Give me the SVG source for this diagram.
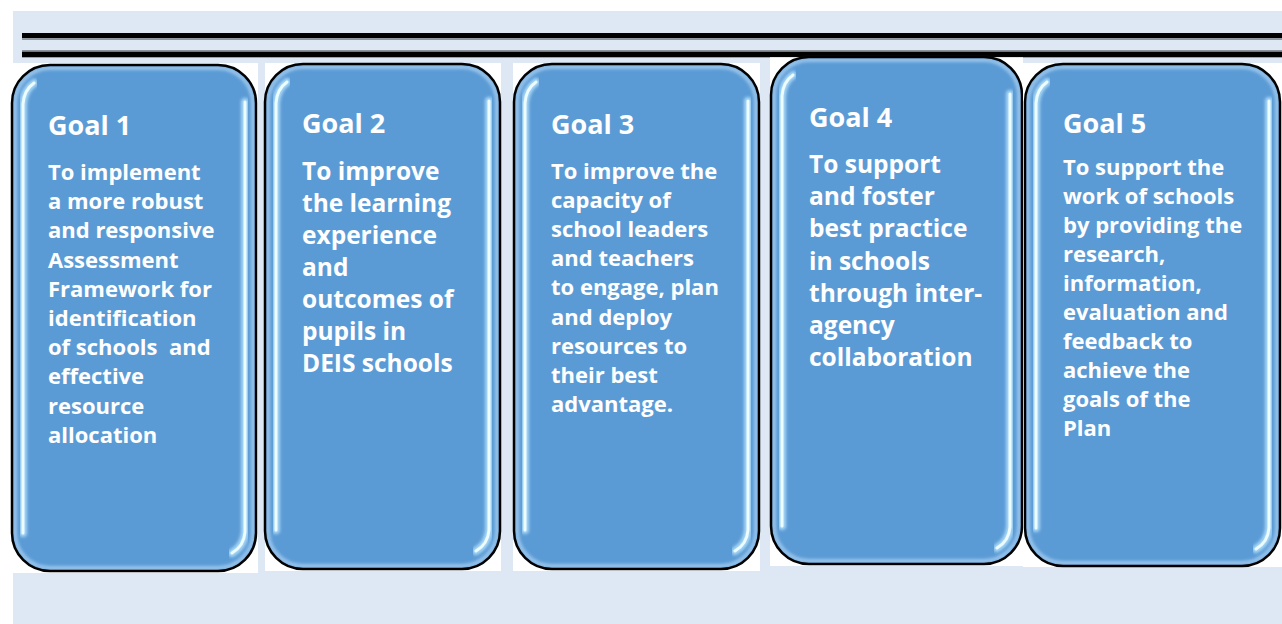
<svg xmlns="http://www.w3.org/2000/svg" width="1282" height="624" viewBox="0 0 1282 624">
<defs>
<style>
.wbg{fill:#ffffff}
.box{fill:#5b9bd5}
.bevel{fill:none;stroke:#a3cbef;stroke-width:4;opacity:.85;filter:url(#soft)}
.hlg{fill:none;stroke:#a6d6f6;stroke-width:8;stroke-linecap:round;filter:url(#soft)}
.hl{fill:none;stroke:#ecfcff;stroke-width:3;stroke-linecap:round}
.outline{fill:none;stroke:#000;stroke-width:2.5}
text{font-family:"Open Sans","DejaVu Sans",sans-serif;font-weight:700;fill:#ffffff}
.title{font-size:27px}
.s22{font-size:22px}
.s24{font-size:24.5px}
.s21{font-size:22px}
</style>
<filter id="soft" x="-20%" y="-20%" width="140%" height="140%"><feGaussianBlur stdDeviation="1.4"/></filter>
</defs>

<!-- background -->
<rect x="13" y="11" width="1269" height="613" fill="#dee8f4"/>
<g id="rule">
<rect x="22" y="33" width="1260" height="5.3" fill="#000"/>
<rect x="22" y="38.3" width="1260" height="1.7" fill="#8d949c"/>
<rect x="22" y="50" width="1260" height="1.7" fill="#8d949c"/>
<rect x="22" y="51.7" width="1260" height="5.6" fill="#000"/>
</g>

<g id="goal1">
<rect class="wbg" x="13" y="63" width="245" height="510"/>
<rect class="box" x="12" y="65" width="244" height="506" rx="38"/>
<rect class="bevel" x="15" y="68" width="238" height="500" rx="35"/>
<path class="hlg" d="M34,83 Q24,90 23,104 L23,533"/>
<path class="hl" d="M34,83 Q24,90 23,104 L23,533"/>
<path class="hlg" d="M245,102 L245,532 Q244,546 232,553"/>
<path class="hl" d="M245,102 L245,532 Q244,546 232,553"/>
<rect class="outline" x="12" y="65" width="244" height="506" rx="38"/>
<text class="title" x="48" y="135">Goal 1</text>
<text class="s22">
<tspan x="48" y="180">To implement</tspan>
<tspan x="48" y="209.2">a more robust</tspan>
<tspan x="48" y="238.4">and responsive</tspan>
<tspan x="48" y="267.6">Assessment</tspan>
<tspan x="48" y="296.8">Framework for</tspan>
<tspan x="48" y="326">identification</tspan>
<tspan x="48" y="355.2">of schools&#160; and</tspan>
<tspan x="48" y="384.4">effective</tspan>
<tspan x="48" y="413.6">resource</tspan>
<tspan x="48" y="442.8">allocation</tspan>
</text>
</g>

<g id="goal2">
<rect class="wbg" x="265" y="63" width="236" height="508"/>
<rect class="box" x="265" y="64" width="235" height="505" rx="38"/>
<rect class="bevel" x="268" y="67" width="229" height="499" rx="35"/>
<path class="hlg" d="M287,82 Q277,89 276,103 L276,530"/>
<path class="hl" d="M287,82 Q277,89 276,103 L276,530"/>
<path class="hlg" d="M489,101 L489,530 Q488,544 476,551"/>
<path class="hl" d="M489,101 L489,530 Q488,544 476,551"/>
<rect class="outline" x="265" y="64" width="235" height="505" rx="38"/>
<text class="title" x="302" y="133">Goal 2</text>
<text class="s24">
<tspan x="302" y="180">To improve</tspan>
<tspan x="302" y="212">the learning</tspan>
<tspan x="302" y="244">experience</tspan>
<tspan x="302" y="276">and</tspan>
<tspan x="302" y="308">outcomes of</tspan>
<tspan x="302" y="340">pupils in</tspan>
<tspan x="302" y="372">DEIS schools</tspan>
</text>
</g>

<g id="goal3">
<rect class="wbg" x="513" y="63" width="247" height="508"/>
<rect class="box" x="514" y="64" width="245" height="505" rx="38"/>
<rect class="bevel" x="517" y="67" width="239" height="499" rx="35"/>
<path class="hlg" d="M536,82 Q526,89 525,103 L525,530"/>
<path class="hl" d="M536,82 Q526,89 525,103 L525,530"/>
<path class="hlg" d="M748,101 L748,530 Q747,544 735,551"/>
<path class="hl" d="M748,101 L748,530 Q747,544 735,551"/>
<rect class="outline" x="514" y="64" width="245" height="505" rx="38"/>
<text class="title" x="551" y="134">Goal 3</text>
<text class="s22">
<tspan x="551" y="179">To improve the</tspan>
<tspan x="551" y="208.1">capacity of</tspan>
<tspan x="551" y="237.2">school leaders</tspan>
<tspan x="551" y="266.3">and teachers</tspan>
<tspan x="551" y="295.4">to engage, plan</tspan>
<tspan x="551" y="324.5">and deploy</tspan>
<tspan x="551" y="353.6">resources to</tspan>
<tspan x="551" y="382.7">their best</tspan>
<tspan x="551" y="411.8">advantage.</tspan>
</text>
</g>

<g id="goal4">
<rect class="wbg" x="770" y="57.3" width="253" height="508.7"/>
<rect class="box" x="771" y="57" width="251" height="507" rx="38"/>
<rect class="bevel" x="774" y="60" width="245" height="501" rx="35"/>
<path class="hlg" d="M793,75 Q783,82 782,96 L782,526"/>
<path class="hl" d="M793,75 Q783,82 782,96 L782,526"/>
<path class="hlg" d="M1010,94 L1010,527 Q1009,541 997,548"/>
<path class="hl" d="M1010,94 L1010,527 Q1009,541 997,548"/>
<rect class="outline" x="771" y="57" width="251" height="507" rx="38"/>
<text class="title" x="809" y="127">Goal 4</text>
<text class="s24">
<tspan x="809" y="173">To support</tspan>
<tspan x="809" y="205.2">and foster</tspan>
<tspan x="809" y="237.4">best practice</tspan>
<tspan x="809" y="269.6">in schools</tspan>
<tspan x="809" y="301.8">through inter-</tspan>
<tspan x="809" y="334">agency</tspan>
<tspan x="809" y="366.2">collaboration</tspan>
</text>
</g>

<g id="goal5">
<rect class="wbg" x="1023" y="63" width="259" height="504"/>
<rect class="box" x="1025" y="64" width="255" height="502" rx="38"/>
<rect class="bevel" x="1028" y="67" width="249" height="496" rx="35"/>
<path class="hlg" d="M1047,82 Q1037,89 1036,103 L1036,528"/>
<path class="hl" d="M1047,82 Q1037,89 1036,103 L1036,528"/>
<path class="hlg" d="M1269,101 L1269,528 Q1268,542 1256,549"/>
<path class="hl" d="M1269,101 L1269,528 Q1268,542 1256,549"/>
<rect class="outline" x="1025" y="64" width="255" height="502" rx="38"/>
<text class="title" x="1063" y="133">Goal 5</text>
<text class="s21">
<tspan x="1063" y="175">To support the</tspan>
<tspan x="1063" y="204">work of schools</tspan>
<tspan x="1063" y="233">by providing the</tspan>
<tspan x="1063" y="262">research,</tspan>
<tspan x="1063" y="291">information,</tspan>
<tspan x="1063" y="320">evaluation and</tspan>
<tspan x="1063" y="349">feedback to</tspan>
<tspan x="1063" y="378">achieve the</tspan>
<tspan x="1063" y="407">goals of the</tspan>
<tspan x="1063" y="436">Plan</tspan>
</text>
</g>

<g id="connectors"></g>
</svg>
